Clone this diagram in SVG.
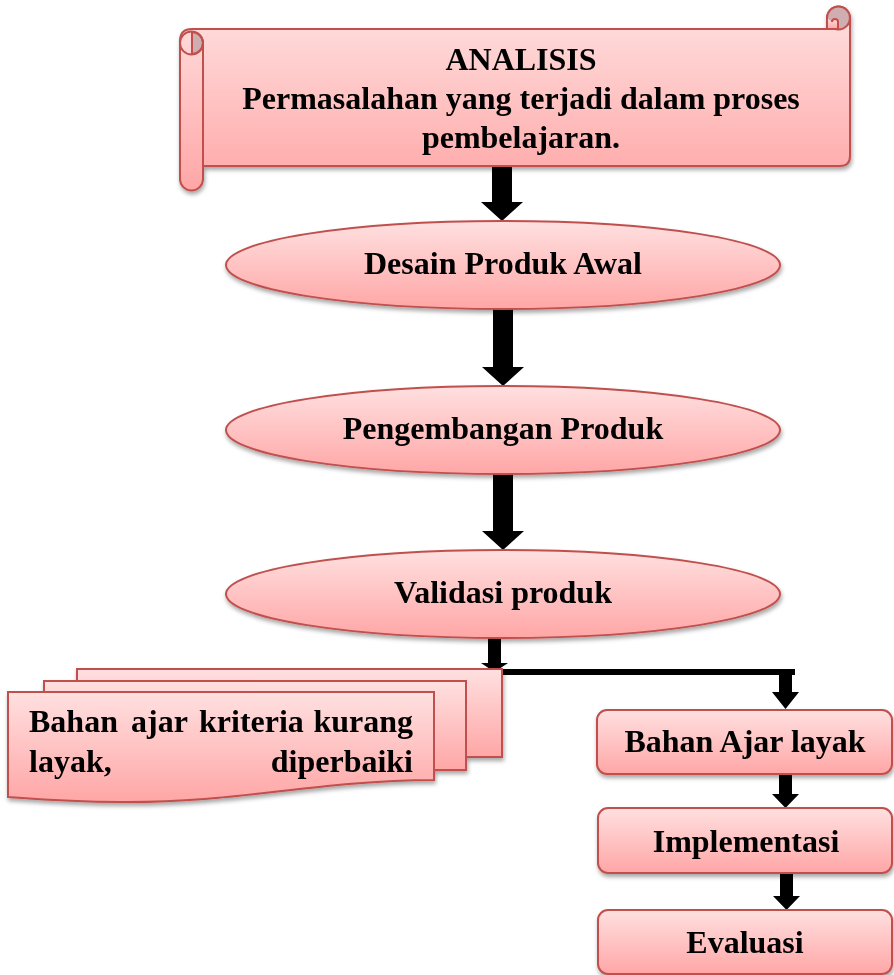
<svg xmlns="http://www.w3.org/2000/svg" width="894" height="975" viewBox="0 0 894 975">
<style>
.shape{fill:url(#pink);stroke:#c0504d;stroke-width:2;}
.dark{fill:#cfadb0;stroke:#c0504d;stroke-width:2;}
.arrow{fill:#000;}
.lbl{font-family:"Liberation Serif","Times New Roman",serif;font-weight:bold;font-size:32px;fill:#000;}
.c{text-anchor:middle;}
</style>
<defs>
<linearGradient id="pink" x1="0" y1="0" x2="0" y2="1">
<stop offset="0" stop-color="#ffe0e0"/>
<stop offset="1" stop-color="#ffa6a6"/>
</linearGradient>
<filter id="sh" x="-10%" y="-10%" width="120%" height="130%">
<feDropShadow dx="1" dy="3" stdDeviation="2" flood-color="#000" flood-opacity="0.35"/>
</filter>
</defs>
<rect width="894" height="975" fill="#fff"/>

<g id="connectors">
<polygon class="arrow" points="492,166 512,166 512,202 523,202 502,221 481,202 492,202"/>
<polygon class="arrow" points="493,308 513,308 513,367 524,367 503,386 482,367 493,367"/>
<polygon class="arrow" points="493,473 513,473 513,531 524,531 503,550 482,531 493,531"/>
<polygon class="arrow" points="488,636 501,636 501,663 508,663 494.5,672 481,663 488,663"/>
<rect class="arrow" x="495" y="669" width="300" height="6"/>
<polygon class="arrow" points="779,672 792,672 792,692 799,692 785.5,709 772,692 779,692"/>
<polygon class="arrow" points="779,773 792,773 792,794 799,794 785.5,808 772,794 779,794"/>
<polygon class="arrow" points="780,872 793,872 793,896 800,896 786.5,910 773,896 780,896"/>
</g>

<g id="analisis" filter="url(#sh)">
<path class="shape" d="M180,41 Q180,29 192,29 H827 V18 A11.5,11.5 0 0 1 850,18 V156 Q850,166 840,166 H203 V179 A11.5,11.5 0 0 1 180,179 Z"/>
<path class="dark" d="M192,32 A11,11 0 0 1 192,54 Z"/>
<circle cx="191.5" cy="43" r="11.5" fill="none" stroke="#c0504d" stroke-width="2"/>
<line x1="203" y1="43" x2="203" y2="166" stroke="#c0504d" stroke-width="2"/>
<circle class="dark" cx="838.5" cy="18" r="11.5"/>
<path class="shape" d="M827,18 V29 H838 V22 Q838,19 835,19 Q832,19 832,22" />
<text class="lbl c" x="521" y="70">ANALISIS</text>
<text class="lbl c" x="521" y="109">Permasalahan yang terjadi dalam proses</text>
<text class="lbl c" x="521" y="148">pembelajaran.</text>
</g>

<g id="desain" filter="url(#sh)">
<ellipse class="shape" cx="503" cy="265" rx="277" ry="44"/>
<text class="lbl c" x="503" y="274">Desain Produk Awal</text>
</g>

<g id="pengembangan" filter="url(#sh)">
<ellipse class="shape" cx="503" cy="430" rx="277" ry="44"/>
<text class="lbl c" x="503" y="439">Pengembangan Produk</text>
</g>

<g id="validasi" filter="url(#sh)">
<ellipse class="shape" cx="503" cy="594" rx="277" ry="44"/>
<text class="lbl c" x="503" y="603">Validasi produk</text>
</g>

<g id="kurang-layak" filter="url(#sh)">
<rect class="shape" x="77" y="669" width="425" height="88"/>
<rect class="shape" x="44" y="681" width="422" height="89"/>
<path class="shape" d="M8,692 H434 V780 C310,781 240,803 120,802 C70,802 35,799 8,797 Z"/>
<text class="lbl"><tspan x="29" y="732">Bahan </tspan><tspan x="131" y="732">ajar </tspan><tspan x="199" y="732">kriteria </tspan><tspan x="413" y="732" text-anchor="end">kurang</tspan><tspan x="29" y="772">layak, </tspan><tspan x="413" y="772" text-anchor="end">diperbaiki</tspan></text>
</g>

<g id="layak" filter="url(#sh)">
<rect class="shape" x="597" y="710" width="295" height="64" rx="10"/>
<text class="lbl c" x="745" y="752">Bahan Ajar layak</text>
</g>

<g id="implementasi" filter="url(#sh)">
<rect class="shape" x="598" y="808" width="294" height="65" rx="10"/>
<text class="lbl c" x="746" y="852">Implementasi</text>
</g>

<g id="evaluasi" filter="url(#sh)">
<rect class="shape" x="598" y="910" width="294" height="64" rx="10"/>
<text class="lbl c" x="745" y="953">Evaluasi</text>
</g>
</svg>
